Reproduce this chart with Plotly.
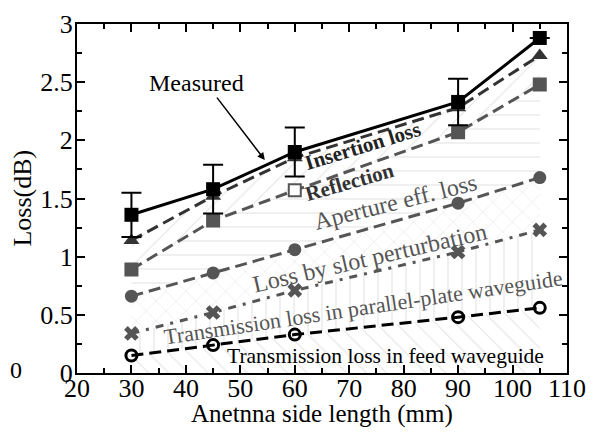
import plotly.graph_objects as go

# ---- data ----
x_len = [30, 45, 60, 90, 105]
measured = [1.36, 1.58, 1.90, 2.33, 2.88]
measured_err = [0.19, 0.21, 0.21, 0.20, None]
insertion = [1.14, 1.52, 1.85, 2.28, 2.73]
reflection = [0.89, 1.31, 1.57, 2.07, 2.48]
aperture = [0.66, 0.86, 1.06, 1.46, 1.68]
slot = [0.34, 0.52, 0.71, 1.04, 1.23]
feed = [0.15, 0.24, 0.33, 0.48, 0.56]
baseline = [0, 0, 0, 0, 0]

x_ticks = [20, 30, 40, 50, 60, 70, 80, 90, 100, 110]
y_ticks = [0, 0.5, 1, 1.5, 2, 2.5, 3]
y_tick_text = ["0", "0.5", "1", "1.5", "2", "2.5", "3"]

FONT = "Liberation Serif, Times New Roman, serif"
HATCH = "#c8c8c8"
GRAY = "#555555"

fig = go.Figure()

# ---- hatched bands (stacked loss contributions) ----
fig.add_trace(go.Scatter(x=x_len, y=baseline, mode="lines", line=dict(width=0),
                         showlegend=False, hoverinfo="skip"))
bands = [(feed, "\\"), (slot, "|"), (aperture, "x"), (reflection, "-"), (insertion, "/")]
for ys, shape in bands:
    fig.add_trace(go.Scatter(
        x=x_len, y=ys, mode="lines", line=dict(width=0), fill="tonexty",
        fillcolor="rgba(0,0,0,0)",
        fillpattern=dict(shape=shape, fgcolor=HATCH, bgcolor="white", size=14, solidity=0.08),
        showlegend=False, hoverinfo="skip"))

# ---- series lines ----
fig.add_trace(go.Scatter(x=x_len, y=feed, mode="lines+markers",
                         line=dict(color="black", width=3, dash="12px,6px"),
                         marker=dict(symbol="circle-open", size=11, color="black", line=dict(width=3)),
                         showlegend=False))
fig.add_trace(go.Scatter(x=x_len, y=slot, mode="lines+markers",
                         line=dict(color=GRAY, width=3, dash="8px,7px,3px,7px"),
                         marker=dict(symbol="x", size=13, color=GRAY, line=dict(width=0)),
                         showlegend=False))
fig.add_trace(go.Scatter(x=x_len, y=aperture, mode="lines+markers",
                         line=dict(color=GRAY, width=3, dash="12px,6px"),
                         marker=dict(symbol="circle", size=13, color=GRAY),
                         showlegend=False))
fig.add_trace(go.Scatter(x=x_len, y=reflection, mode="lines+markers",
                         line=dict(color=GRAY, width=3, dash="12px,6px"),
                         marker=dict(symbol="square", size=12,
                                     color=[GRAY, GRAY, "white", GRAY, GRAY],
                                     line=dict(color=GRAY, width=2)),
                         showlegend=False))
fig.add_trace(go.Scatter(x=x_len, y=insertion, mode="lines+markers",
                         line=dict(color="#333333", width=3, dash="12px,6px"),
                         marker=dict(symbol="triangle-up", size=14, color="#333333"),
                         showlegend=False))
fig.add_trace(go.Scatter(x=x_len, y=measured, mode="lines+markers",
                         line=dict(color="black", width=3),
                         marker=dict(symbol="square", size=14, color="black"),
                         error_y=dict(type="data", array=measured_err, color="black",
                                      thickness=2, width=10),
                         showlegend=False))

# ---- labels ----
def lab(text, x, y, size, color, angle=0, bold=False):
    fig.add_annotation(x=x, y=y, xref="x", yref="y", showarrow=False,
                       text=f"<b>{text}</b>" if bold else text, textangle=angle,
                       font=dict(family=FONT, size=size, color=color))

lab("Insertion loss", 72.5, 1.95, 21, "#222222", -17, True)
lab("Reflection", 70.1, 1.64, 21, "#333333", -16, True)
lab("Aperture eff. loss", 78.5, 1.47, 24, GRAY, -14)
lab("Loss by slot perturbation", 73.7, 0.99, 24, GRAY, -13)
lab("Transmission loss in parallel-plate waveguide", 72.5, 0.56, 22, GRAY, -8.5)
lab("Transmission loss in feed waveguide", 76.6, 0.15, 21.5, "black", 0)

fig.add_annotation(x=54.5, y=1.83, xref="x", yref="y", ax=45.5, ay=2.38,
                   axref="x", ayref="y", showarrow=True, arrowhead=2, arrowsize=1,
                   arrowwidth=1.5, arrowcolor="black", text="")
fig.add_annotation(x=42, y=2.49, xref="x", yref="y", showarrow=False, text="Measured",
                   font=dict(family=FONT, size=24, color="black"))
fig.add_annotation(x=-0.1408, y=-0.034, xref="paper", yref="paper", showarrow=False,
                   xanchor="left", text="0", font=dict(family=FONT, size=24, color="black"))

# axis titles
fig.add_annotation(x=0.5, y=-0.117, xref="paper", yref="paper", showarrow=False,
                   xanchor="center", yanchor="middle", text="Anetnna side length (mm)",
                   font=dict(family=FONT, size=25, color="black"))
fig.add_annotation(x=-0.112, y=0.5, xref="paper", yref="paper", showarrow=False,
                   xanchor="center", yanchor="middle",
                   textangle=-90, text="Loss(dB)",
                   font=dict(family=FONT, size=26, color="black"))

axis_common = dict(showline=True, linewidth=2, linecolor="black", mirror="ticks",
                   ticks="inside", ticklen=8, tickwidth=2, tickcolor="black",
                   showgrid=False, zeroline=False, automargin=False,
                   tickfont=dict(family=FONT, size=26, color="black"))

fig.update_xaxes(range=[20, 110], tickvals=x_ticks, ticklabelstandoff=-9,
                 minor=dict(dtick=5, ticks="inside", ticklen=5, tickwidth=2, tickcolor="black"),
                 **axis_common)
fig.update_yaxes(range=[0, 3], tickvals=y_ticks, ticktext=y_tick_text, ticklabelstandoff=-3,
                 minor=dict(dtick=0.25, ticks="inside", ticklen=5, tickwidth=2, tickcolor="black"),
                 **axis_common)

# page has an 8px body margin; size the figure so the plot lands where the reference has it
fig.update_layout(width=591, height=426, margin=dict(l=69, r=32, t=16, b=61),
                  plot_bgcolor="white", paper_bgcolor="white", showlegend=False)

fig.write_html("out.html")
